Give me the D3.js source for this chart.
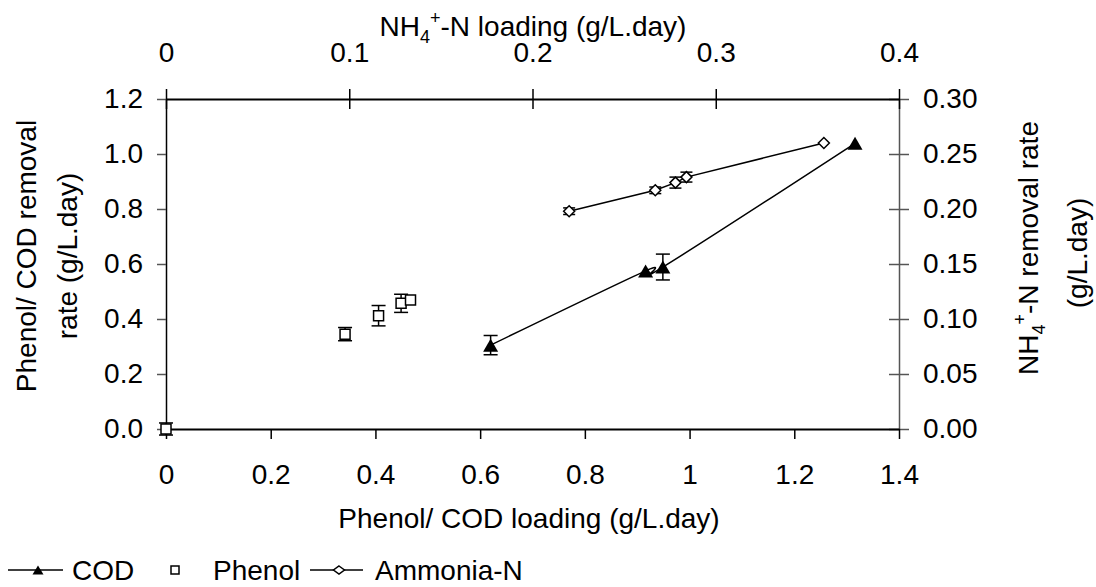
<!DOCTYPE html>
<html>
<head>
<meta charset="utf-8">
<script src="https://cdn.jsdelivr.net/npm/d3@7"></script>
<style>
    body { margin: 0; background: #fff; }
    svg text { font-family: "Liberation Sans", Arial, sans-serif; fill: #000; }
</style>
</head>
<body>
<div id="chart"></div>
<script>

// COD: bottom axis x, left axis y
var codLoading = [0.62, 0.916, 0.949, 1.316];
var codRemoval = [0.305, 0.575, 0.589, 1.039];
var codErr = [0.035, 0, 0.047, 0];

// Phenol: bottom axis x, left axis y (no line)
var phenolLoading = [0, 0.342, 0.406, 0.449, 0.467];
var phenolRemoval = [0, 0.345, 0.412, 0.457, 0.469];
var phenolErr = [0.022, 0.024, 0.037, 0.033, 0];

// Ammonia-N: top axis x, right axis y
var nh4Loading = [0.220, 0.267, 0.278, 0.284, 0.359];
var nh4Removal = [0.198, 0.217, 0.224, 0.229, 0.260];
var nh4Err = [0.003, 0.003, 0.005, 0.0045, 0];

var bottomTicks = [0, 0.2, 0.4, 0.6, 0.8, 1, 1.2, 1.4];
var topTicks = [0, 0.1, 0.2, 0.3, 0.4];
var leftTicks = [0, 0.2, 0.4, 0.6, 0.8, 1.0, 1.2];
var rightTicks = [0, 0.05, 0.10, 0.15, 0.20, 0.25, 0.30];

var W = 1096, H = 587;
var margin = {top: 99, right: 197, bottom: 158, left: 166};
var width = W - margin.left - margin.right,
    height = H - margin.top - margin.bottom;
var FS = 28;

var svg = d3.select("#chart").append("svg")
    .attr("width", W)
    .attr("height", H);

svg.append("rect").attr("width", W).attr("height", H).style("fill", "#fff");

var g = svg.append("g")
    .attr("transform", "translate(" + margin.left + "," + margin.top + ")");

var xB = d3.scaleLinear().domain([0, 1.4]).range([0, width]);
var xT = d3.scaleLinear().domain([0, 0.4]).range([0, width]);
var yL = d3.scaleLinear().domain([0, 1.2]).range([height, 0]);
var yR = d3.scaleLinear().domain([0, 0.3]).range([height, 0]);

function general(d) {
    return String(+d.toFixed(2));
}

// axes
var leftAxis = g.append("g")
    .call(d3.axisLeft(yL).tickValues(leftTicks).tickFormat(d3.format(".1f"))
        .tickSize(9).tickSizeOuter(0).tickPadding(14));
leftAxis.selectAll(".tick line").style("stroke", "#555");

var rightAxis = g.append("g")
    .attr("transform", "translate(" + width + ",0)")
    .call(d3.axisRight(yR).tickValues(rightTicks).tickFormat(d3.format(".2f"))
        .tickSize(10).tickSizeOuter(0).tickPadding(14));
rightAxis.selectAll(".tick line").attr("x1", -10).style("stroke", "#555");
rightAxis.select(".domain").style("stroke", "#555");

var bottomAxis = g.append("g")
    .attr("transform", "translate(0," + height + ")")
    .call(d3.axisBottom(xB).tickValues(bottomTicks).tickFormat(general)
        .tickSize(10).tickSizeOuter(0).tickPadding(25));

var topAxis = g.append("g")
    .call(d3.axisTop(xT).tickValues(topTicks).tickFormat(general)
        .tickSize(10).tickSizeOuter(0).tickPadding(27));
topAxis.selectAll(".tick line").attr("y1", 10);

[leftAxis, rightAxis, bottomAxis, topAxis].forEach(function (a) {
    a.selectAll("text").style("font-size", FS + "px").style("font-family", null);
    a.select(".domain").style("stroke-width", 2);
    a.selectAll(".tick line").style("stroke-width", 1.5);
});
leftAxis.select(".domain").style("stroke-width", 1.5);
rightAxis.select(".domain").style("stroke-width", 1.5);

// axis titles
svg.append("text")
    .attr("x", 529).attr("y", 528)
    .style("font-size", FS + "px").style("text-anchor", "middle")
    .text("Phenol/ COD loading (g/L.day)");

var tt = svg.append("text")
    .attr("x", 533).attr("y", 36)
    .style("font-size", FS + "px").style("text-anchor", "middle");
tt.append("tspan").text("NH");
tt.append("tspan").attr("dy", 7).style("font-size", "18px").text("4");
tt.append("tspan").attr("dy", -19).style("font-size", "18px").text("+");
tt.append("tspan").attr("dy", 12).text("-N loading (g/L.day)");

var lt = svg.append("g").attr("transform", "translate(36,256) rotate(-90)");
lt.append("text").style("font-size", FS + "px").style("text-anchor", "middle")
    .text("Phenol/ COD removal");
lt.append("text").attr("y", 41).style("font-size", FS + "px").style("text-anchor", "middle")
    .text("rate (g/L.day)");

var rt = svg.append("g").attr("transform", "translate(1038,248) rotate(-90)");
var r1 = rt.append("text").style("font-size", FS + "px").style("text-anchor", "middle");
r1.append("tspan").text("NH");
r1.append("tspan").attr("dy", 7).style("font-size", "18px").text("4");
r1.append("tspan").attr("dy", -19).style("font-size", "18px").text("+");
r1.append("tspan").attr("dy", 12).text("-N removal rate");
rt.append("text").attr("x", -5).attr("y", 49).style("font-size", FS + "px").style("text-anchor", "middle")
    .text("(g/L.day)");

// marker paths
function triPath(w, h) {
    return "M0," + (-h / 2) + "L" + (w / 2) + "," + (h / 2) + "L" + (-w / 2) + "," + (h / 2) + "Z";
}
function sqPath(s) {
    return "M" + (-s / 2) + "," + (-s / 2) + "h" + s + "v" + s + "h" + (-s) + "Z";
}
function diaPath(w, h) {
    return "M0," + (-h / 2) + "L" + (w / 2) + ",0L0," + (h / 2) + "L" + (-w / 2) + ",0Z";
}

function errorBars(xs, ys, es, xScale, yScale, cap) {
    xs.forEach(function (xv, i) {
        if (!es[i]) return;
        var px = xScale(xv), y0 = yScale(ys[i] - es[i]), y1 = yScale(ys[i] + es[i]);
        var eg = g.append("g").style("stroke", "#000").style("stroke-width", 1.5);
        eg.append("line").attr("x1", px).attr("x2", px).attr("y1", y0).attr("y2", y1);
        eg.append("line").attr("x1", px - cap).attr("x2", px + cap).attr("y1", y0).attr("y2", y0);
        eg.append("line").attr("x1", px - cap).attr("x2", px + cap).attr("y1", y1).attr("y2", y1);
    });
}

// lines
var codLine = d3.line()
    .x(function (d) { return xB(d[0]); })
    .y(function (d) { return yL(d[1]); })
    .curve(d3.curveCardinal.tension(0));

g.append("path")
    .datum(d3.zip(codLoading, codRemoval))
    .attr("d", codLine)
    .style("fill", "none").style("stroke", "#000").style("stroke-width", 1.5);

var nh4Line = d3.line()
    .x(function (d) { return xT(d[0]); })
    .y(function (d) { return yR(d[1]); });

g.append("path")
    .datum(d3.zip(nh4Loading, nh4Removal))
    .attr("d", nh4Line)
    .style("fill", "none").style("stroke", "#000").style("stroke-width", 1.5);

errorBars(codLoading, codRemoval, codErr, xB, yL, 7);
errorBars(phenolLoading, phenolRemoval, phenolErr, xB, yL, 7);
errorBars(nh4Loading, nh4Removal, nh4Err, xT, yR, 6);

// markers
g.selectAll(".cod")
    .data(d3.zip(codLoading, codRemoval))
    .enter().append("path")
    .attr("class", "cod")
    .attr("transform", function (d) { return "translate(" + xB(d[0]) + "," + yL(d[1]) + ")"; })
    .attr("d", triPath(15, 13))
    .style("fill", "#000");

g.selectAll(".phenol")
    .data(d3.zip(phenolLoading, phenolRemoval))
    .enter().append("path")
    .attr("class", "phenol")
    .attr("transform", function (d) { return "translate(" + xB(d[0]) + "," + yL(d[1]) + ")"; })
    .attr("d", sqPath(10))
    .style("fill", "#fff").style("stroke", "#000").style("stroke-width", 1.5);

g.selectAll(".nh4")
    .data(d3.zip(nh4Loading, nh4Removal))
    .enter().append("path")
    .attr("class", "nh4")
    .attr("transform", function (d) { return "translate(" + xT(d[0]) + "," + yR(d[1]) + ")"; })
    .attr("d", diaPath(11, 11))
    .style("fill", "#fff").style("stroke", "#000").style("stroke-width", 1.5);

// legend
var lg = svg.append("g").attr("transform", "translate(0,570)");
lg.append("line").attr("x1", 8).attr("x2", 63).style("stroke", "#000").style("stroke-width", 1.5);
lg.append("path").attr("transform", "translate(38,0)").attr("d", triPath(11, 9)).style("fill", "#000");
lg.append("text").attr("x", 72).attr("y", 10).style("font-size", FS + "px").text("COD");
lg.append("path").attr("transform", "translate(175,0)").attr("d", sqPath(8))
    .style("fill", "#fff").style("stroke", "#000").style("stroke-width", 1.5);
lg.append("text").attr("x", 213).attr("y", 10).style("font-size", FS + "px").text("Phenol");
lg.append("line").attr("x1", 310).attr("x2", 363).style("stroke", "#000").style("stroke-width", 1.5);
lg.append("path").attr("transform", "translate(339,0)").attr("d", diaPath(11, 8))
    .style("fill", "#fff").style("stroke", "#000").style("stroke-width", 1.5);
lg.append("text").attr("x", 375).attr("y", 10).style("font-size", FS + "px").text("Ammonia-N");

</script>
</body>
</html>
